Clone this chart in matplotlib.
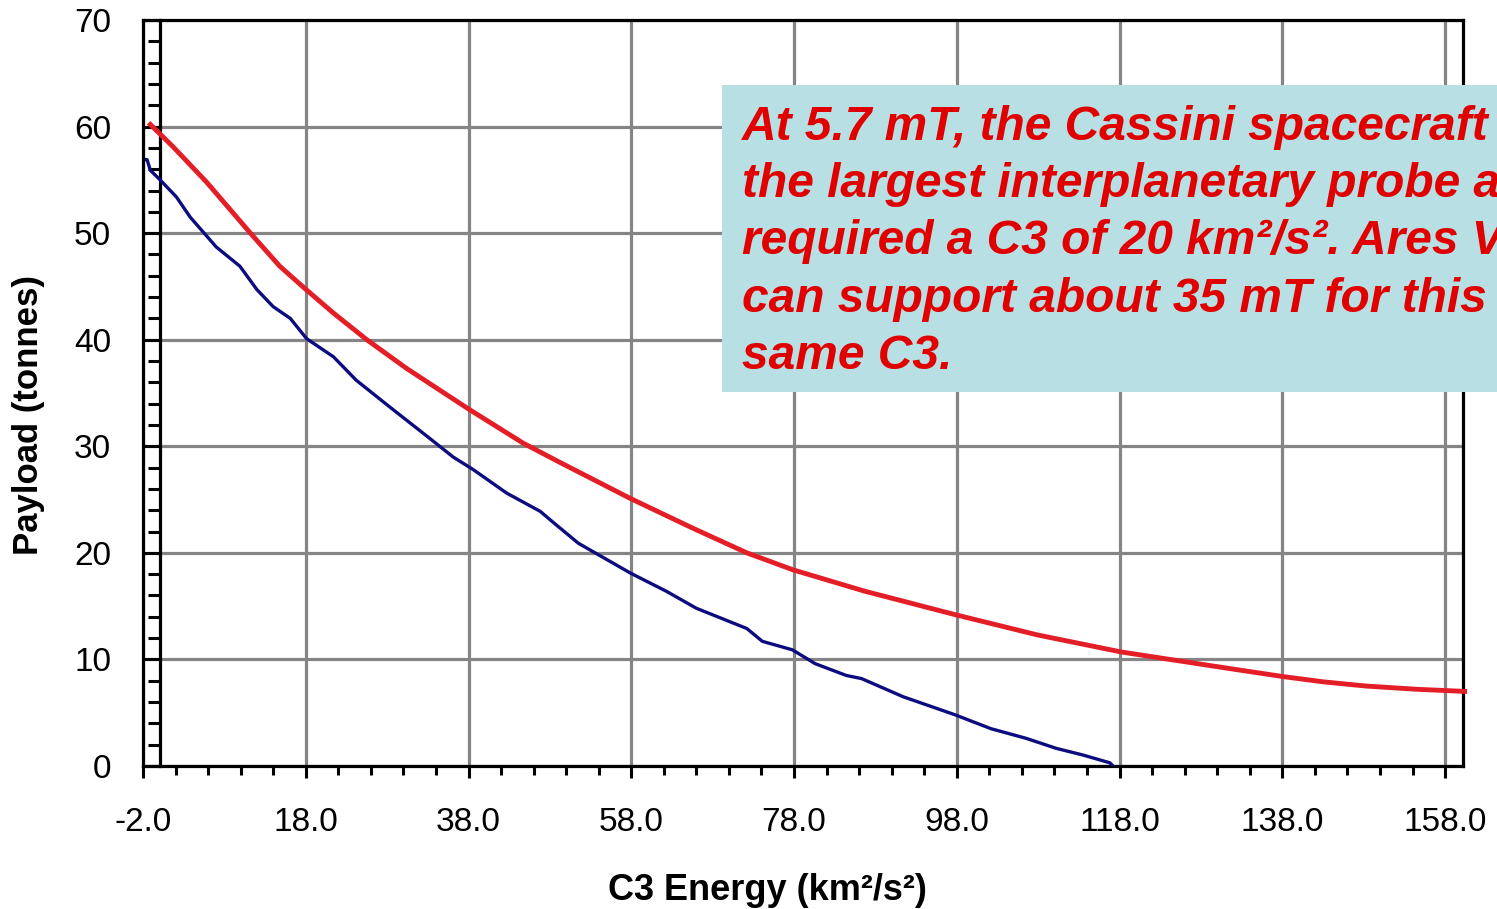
import matplotlib
matplotlib.use("Agg")
import matplotlib.pyplot as plt
from matplotlib.patches import Rectangle
from matplotlib.lines import Line2D
from matplotlib.ticker import MultipleLocator, FormatStrFormatter

plt.rcParams['font.family'] = ['Liberation Sans', 'DejaVu Sans']

# Ares V payload vs C3
ares_c3 = [-1.1, 1.7, 5.8, 11.2, 14.8, 17.9, 21.4, 25.5, 30.4, 38.0, 44.7,
           49.2, 57.9, 65.6, 72.2, 77.9, 86.7, 97.8, 107.9, 118.2, 124.6,
           131.9, 138.0, 143.0, 148.3, 154.5, 160.4]
ares_payload = [60.2, 58.1, 54.8, 50.0, 46.9, 44.8, 42.5, 40.0, 37.3, 33.5, 30.3,
                28.5, 25.1, 22.3, 20.0, 18.4, 16.4, 14.2, 12.3, 10.7, 9.95,
                9.1, 8.4, 7.9, 7.5, 7.2, 7.0]

# second (blue) curve
other_c3 = [-1.75, -1.5, -1.1, 0.1, 2.1, 3.8, 7.0, 9.9, 12.0, 14.0, 16.1,
            18.1, 21.4, 24.2, 28.3, 33.3, 36.1, 38.6, 42.7, 46.8, 48.5,
            51.5, 57.9, 62.3, 66.0, 72.2, 74.1, 77.8, 80.6, 84.4, 86.3,
            91.4, 97.8, 102.2, 106.5, 110.2, 113.5, 116.8, 117.2]
other_payload = [56.9, 56.9, 55.9, 55.0, 53.4, 51.5, 48.7, 46.9, 44.7, 43.1, 42.0,
                 40.1, 38.4, 36.2, 33.7, 30.7, 29.0, 27.8, 25.6, 23.9, 22.8,
                 20.9, 18.1, 16.4, 14.8, 12.9, 11.7, 10.9, 9.6, 8.5, 8.2,
                 6.5, 4.8, 3.5, 2.6, 1.66, 1.03, 0.3, 0.0]

note_lines = [
    "At 5.7 mT, the Cassini spacecraft",
    "the largest interplanetary probe and",
    "required a C3 of 20 km\u00b2/s\u00b2. Ares V",
    "can support about 35 mT for this",
    "same C3.",
]

W, H = 1497, 909
fig = plt.figure(figsize=(W / 100, H / 100), dpi=100)
ax = fig.add_axes([143 / W, 1 - 766 / H, 1320 / W, 746 / H])

ax.plot(ares_c3, ares_payload, color='#e41e26', lw=3.5, clip_on=False, zorder=3,
        solid_joinstyle='round')
ax.plot(other_c3, other_payload, color='#0c0c80', lw=2.4, zorder=3,
        solid_joinstyle='round')

ax.set_xlim(-2, 160.2)
ax.set_ylim(0, 70)

ax.xaxis.set_major_locator(MultipleLocator(20, offset=-2))
ax.xaxis.set_minor_locator(MultipleLocator(4, offset=-2))
ax.xaxis.set_major_formatter(FormatStrFormatter('%.1f'))
ax.yaxis.set_major_locator(MultipleLocator(10))
ax.yaxis.set_minor_locator(MultipleLocator(2))

ax.grid(True, which='major', color='#858585', lw=2.3)
ax.set_axisbelow(True)

for side in ['top', 'right', 'bottom', 'left']:
    ax.spines[side].set_linewidth(2.3)
    ax.spines[side].set_color('black')
# y ruler: inner line carries the ticks, outer line is the axes edge
ax.spines['left'].set_position(('axes', 17 / 1320))
ax.add_line(Line2D([0, 0], [0, 1], transform=ax.transAxes, color='black',
                   lw=2.3, clip_on=False, zorder=4))

ax.tick_params(axis='x', which='major', direction='out', length=8.6, width=2.2,
               labelsize=24, pad=21, colors='black')
ax.tick_params(axis='x', which='minor', direction='out', length=6.5, width=2.2)
ax.tick_params(axis='y', which='major', direction='out', length=12.2, width=2.2,
               labelsize=24, pad=23, colors='black')
ax.tick_params(axis='y', which='minor', direction='out', length=8.6, width=2.2)

ax.set_xlabel('C3 Energy (km\u00b2/s\u00b2)', fontsize=26, fontweight='bold')
ax.set_ylabel('Payload (tonnes)', fontsize=25, fontweight='bold')
ax.xaxis.set_label_coords(0.4727, -0.143)
ax.yaxis.set_label_coords(-0.0742, 0.4705)

# annotation box, runs off the right edge like the original slide
box = Rectangle((722 / W, 1 - 392 / H), 900 / W, 307 / H, transform=fig.transFigure,
                facecolor='#b8dfe3', edgecolor='none', zorder=5, clip_on=False)
fig.add_artist(box)
fig.text(742 / W, 1 - 105 / H, "\n".join(note_lines), transform=fig.transFigure,
         fontsize=34.5, fontweight='bold', fontstyle='italic', color='#e00000',
         va='top', ha='left', linespacing=1.35, zorder=6)

fig.savefig('out.png', dpi=100)
